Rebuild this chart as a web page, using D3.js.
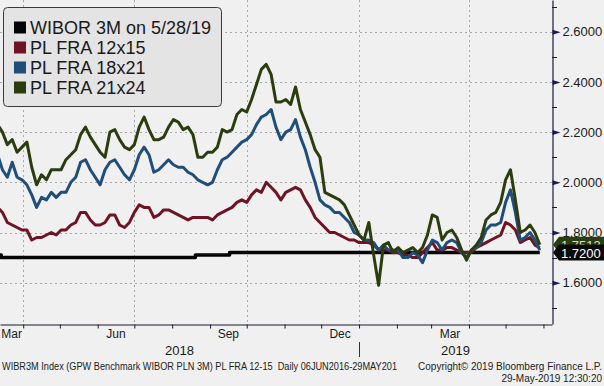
<!DOCTYPE html>
<html>
<head>
<meta charset="utf-8">
<script src="https://cdn.jsdelivr.net/npm/d3@7"></script>
<style>
  html, body { margin: 0; padding: 0; background: #f0f0f0; }
  svg { display: block; font-family: "Liberation Sans", Arial, sans-serif; }
</style>
</head>
<body>
<div id="chart"></div>
<script>
// chart size and plot box (value axis on the right)
var svgWidth = 604;
var svgHeight = 386;
var plotW = 552;
var plotH = 324;

// FRA quotes, one reading every 4 days from 11 Mar 2018 to 29 May 2019
var startDate = "2018-03-11";
var stepDays = 4;

var fra12x15 = [1.90, 1.88, 1.84, 1.83, 1.82, 1.81, 1.81, 1.77, 1.78, 1.78,
  1.79, 1.80, 1.79, 1.81, 1.81, 1.83, 1.84, 1.88, 1.88, 1.85,
  1.83, 1.83, 1.84, 1.87, 1.87, 1.83, 1.82, 1.84, 1.88, 1.91,
  1.90, 1.90, 1.86, 1.87, 1.89, 1.89, 1.88, 1.87, 1.86, 1.85,
  1.86, 1.86, 1.86, 1.86, 1.85, 1.87, 1.88, 1.89, 1.90, 1.92,
  1.93, 1.92, 1.95, 1.97, 1.96, 2.00, 1.98, 1.96, 1.93, 1.96,
  1.97, 1.98, 1.97, 1.93, 1.90, 1.86, 1.84, 1.82, 1.80, 1.80,
  1.79, 1.78, 1.77, 1.77, 1.76, 1.76, 1.76, 1.75, 1.73, 1.73,
  1.73, 1.72, 1.72, 1.71, 1.71, 1.70, 1.70, 1.72, 1.74, 1.76,
  1.73, 1.73, 1.74, 1.74, 1.73, 1.72, 1.72, 1.72, 1.74, 1.75,
  1.76, 1.77, 1.78, 1.79, 1.84, 1.83, 1.81, 1.76, 1.77, 1.78,
  1.75, 1.74];

var fra18x21 = [2.11, 2.05, 2.02, 2.08, 2.02, 2.01, 1.99, 1.95, 1.90, 1.94,
  1.93, 1.96, 1.94, 1.96, 1.96, 2.00, 2.02, 2.08, 2.09, 2.05,
  2.02, 1.99, 2.05, 2.08, 2.09, 2.06, 2.03, 2.01, 2.05, 2.11,
  2.14, 2.11, 2.04, 2.05, 2.07, 2.09, 2.07, 2.06, 2.06, 2.04,
  2.03, 2.01, 2.00, 1.99, 2.00, 2.05, 2.09, 2.10, 2.12, 2.14,
  2.16, 2.17, 2.19, 2.23, 2.26, 2.27, 2.29, 2.22, 2.17, 2.20,
  2.21, 2.25, 2.18, 2.13, 2.06, 2.00, 1.93, 1.91, 1.90, 1.88,
  1.88, 1.86, 1.84, 1.80, 1.79, 1.77, 1.77, 1.76, 1.73, 1.75,
  1.73, 1.73, 1.73, 1.70, 1.70, 1.72, 1.71, 1.68, 1.73, 1.77,
  1.76, 1.73, 1.76, 1.77, 1.76, 1.72, 1.70, 1.73, 1.74, 1.76,
  1.81, 1.83, 1.83, 1.84, 1.92, 1.97, 1.88, 1.77, 1.78, 1.80,
  1.77, 1.73];

var fra21x24 = [2.23, 2.20, 2.15, 2.17, 2.12, 2.14, 2.16, 2.06, 1.99, 2.03,
  2.01, 2.05, 2.05, 2.05, 2.09, 2.11, 2.13, 2.19, 2.22, 2.18,
  2.15, 2.12, 2.10, 2.20, 2.21, 2.17, 2.14, 2.13, 2.15, 2.22,
  2.26, 2.21, 2.17, 2.17, 2.18, 2.22, 2.25, 2.24, 2.21, 2.22,
  2.19, 2.10, 2.10, 2.12, 2.12, 2.14, 2.21, 2.20, 2.21, 2.27,
  2.29, 2.28, 2.33, 2.39, 2.45, 2.47, 2.43, 2.32, 2.32, 2.33,
  2.31, 2.38, 2.29, 2.24, 2.19, 2.13, 2.10, 1.96, 1.95, 1.94,
  1.93, 1.91, 1.87, 1.83, 1.79, 1.77, 1.84, 1.71, 1.59, 1.75,
  1.76, 1.72, 1.74, 1.72, 1.73, 1.74, 1.72, 1.74, 1.79, 1.87,
  1.86, 1.77, 1.80, 1.81, 1.78, 1.73, 1.69, 1.73, 1.75, 1.78,
  1.85, 1.87, 1.88, 1.92, 2.01, 2.05, 1.93, 1.80, 1.81, 1.83,
  1.80, 1.7513];

// WIBOR 3M fixing, changes only in steps
var wiborDates = ["2018-03-11", "2018-03-14", "2018-08-20", "2018-09-17", "2019-05-29"];
var wiborValues = [1.71, 1.70, 1.71, 1.72, 1.72];

var seriesNames = ["WIBOR 3M on 5/28/19", "PL FRA 12x15", "PL FRA 18x21", "PL FRA 21x24"];
var seriesColors = ["#050505", "#6e1423", "#1f4e79", "#2b3d0e"];

// axis ticks and labels
var yTicks = [1.6, 1.8, 2.0, 2.2, 2.4, 2.6];
var yMinorTicks = [1.5, 1.7, 1.9, 2.1, 2.3, 2.5, 2.7];
var monthLabelDates = ["2018-03-01", "2018-06-01", "2018-09-01", "2018-12-01", "2019-03-01"];
var monthLabels = ["Mar", "Jun", "Sep", "Dec", "Mar"];
var yearStarts = ["2018-01-01", "2019-01-01"];
var yearLabels = ["2018", "2019"];
var gridDates = ["2018-04-01", "2018-07-01", "2018-10-01", "2019-01-01", "2019-04-01"];

var footerLeft = "WIBR3M Index (GPW Benchmark WIBOR PLN 3M) PL FRA 12-15  Daily 06JUN2016-29MAY201";
var footerRight = ["Copyright\u00a9 2019 Bloomberg Finance L.P.", "29-May-2019 12:30:20"];

var parseDate = d3.timeParse("%Y-%m-%d");

var svg = d3.select("#chart")
  .append("svg")
  .attr("width", svgWidth)
  .attr("height", svgHeight);

svg.append("rect")
  .attr("width", svgWidth)
  .attr("height", svgHeight)
  .attr("fill", "#f0f0f0");

/// scales
var xScale = d3.scaleTime()
  .domain([parseDate("2018-03-13"), parseDate("2019-06-08")])
  .range([0, plotW]);

var yScale = d3.scaleLinear()
  .domain([1.4355, 2.7263])
  .range([plotH, 0]);

/// build the point lists
var t0 = parseDate(startDate);
function toPoints(values) {
  return values.map(function(v, i) {
    return {date: d3.timeDay.offset(t0, i * stepDays), value: v};
  });
}
var wiborPoints = wiborDates.map(function(d, i) {
  return {date: parseDate(d), value: wiborValues[i]};
});
var allSeries = [wiborPoints, toPoints(fra12x15), toPoints(fra18x21), toPoints(fra21x24)];

/// grid lines
var grid = svg.append("g");
grid.selectAll(".hgrid")
  .data(yTicks)
  .enter()
  .append("line")
  .attr("x1", 0)
  .attr("x2", plotW)
  .attr("y1", d => Math.round(yScale(d)) + 0.5)
  .attr("y2", d => Math.round(yScale(d)) + 0.5)
  .attr("stroke", "#a8a8a8")
  .attr("stroke-dasharray", "2,3");

grid.selectAll(".vgrid")
  .data(gridDates.map(parseDate))
  .enter()
  .append("line")
  .attr("x1", d => Math.round(xScale(d)) + 0.5)
  .attr("x2", d => Math.round(xScale(d)) + 0.5)
  .attr("y1", 0)
  .attr("y2", plotH)
  .attr("stroke", "#a8a8a8")
  .attr("stroke-dasharray", "2,3");

/// lines, clipped to the plot box
svg.append("clipPath")
  .attr("id", "plotClip")
  .append("rect")
  .attr("width", plotW)
  .attr("height", plotH);

var lineGroup = svg.append("g").attr("clip-path", "url(#plotClip)");

var stepLine = d3.line()
  .curve(d3.curveStepAfter)
  .x(d => xScale(d.date))
  .y(d => yScale(d.value));

var plainLine = d3.line()
  .x(d => xScale(d.date))
  .y(d => yScale(d.value));

allSeries.forEach(function(points, i) {
  lineGroup.append("path")
    .datum(points)
    .attr("d", i === 0 ? stepLine : plainLine)
    .attr("fill", "none")
    .attr("stroke", seriesColors[i])
    .attr("stroke-width", i === 0 ? 3.5 : 3)
    .attr("stroke-linejoin", "round");
});

/// bottom axis: month ticks
var monthTicks = d3.timeMonth.range(xScale.domain()[0], xScale.domain()[1]);
var bottomAxis = d3.axisBottom(xScale)
  .tickValues(monthTicks)
  .tickSize(4)
  .tickSizeOuter(0)
  .tickFormat("");

var xAxisG = svg.append("g")
  .attr("transform", `translate(0, ${plotH + 0.5})`)
  .call(bottomAxis);
xAxisG.select(".domain").attr("stroke", "#1a1a33").attr("stroke-width", 1.2);
xAxisG.selectAll(".tick line").attr("stroke", "#1a1a33");

// month labels centred in the visible part of their month
function clampX(v) { return Math.max(0, Math.min(plotW, v)); }
svg.selectAll(".monthLabel")
  .data(monthLabelDates)
  .enter()
  .append("text")
  .attr("x", function(d) {
    var a = parseDate(d);
    return (clampX(xScale(a)) + clampX(xScale(d3.timeMonth.offset(a, 1)))) / 2;
  })
  .attr("y", 338)
  .attr("text-anchor", "middle")
  .attr("font-size", "12px")
  .attr("fill", "#1a1a1a")
  .text((d, i) => monthLabels[i]);

// year labels centred in the visible part of the year
svg.selectAll(".yearLabel")
  .data(yearStarts)
  .enter()
  .append("text")
  .attr("x", function(d) {
    var a = parseDate(d);
    return (clampX(xScale(a)) + clampX(xScale(d3.timeYear.offset(a, 1)))) / 2;
  })
  .attr("y", 355)
  .attr("text-anchor", "middle")
  .attr("font-size", "13px")
  .attr("fill", "#1a1a1a")
  .text((d, i) => yearLabels[i]);

// year separator
var sepX = Math.round(xScale(parseDate(yearStarts[1]))) + 0.5;
svg.append("line")
  .attr("x1", sepX).attr("x2", sepX)
  .attr("y1", 342).attr("y2", 357)
  .attr("stroke", "#333");

/// right value axis
var rightAxis = d3.axisRight(yScale)
  .tickValues(yTicks)
  .tickSize(0)
  .tickPadding(10)
  .tickFormat(d3.format(".4f"));

var yAxisG = svg.append("g")
  .attr("transform", `translate(${plotW + 0.5}, 0)`)
  .call(rightAxis);
yAxisG.select(".domain").attr("stroke", "#1a1a40").attr("stroke-width", 1.2);
yAxisG.selectAll(".tick text")
  .attr("font-size", "13px")
  .attr("font-family", "Liberation Sans, Arial, sans-serif")
  .attr("fill", "#1a1a1a");

// triangle markers on major ticks
yAxisG.selectAll(".tick")
  .append("path")
  .attr("d", "M0,-2.5L8,0L0,2.5Z")
  .attr("fill", "#1a1a50");

// minor ticks
svg.selectAll(".minorTick")
  .data(yMinorTicks)
  .enter()
  .append("line")
  .attr("x1", plotW)
  .attr("x2", plotW + 5)
  .attr("y1", d => Math.round(yScale(d)) + 0.5)
  .attr("y2", d => Math.round(yScale(d)) + 0.5)
  .attr("stroke", "#1a1a40");

/// last value tags on the right
function tagPath(cy, h) {
  var x0 = plotW + 1, x1 = plotW + 7, x2 = svgWidth;
  return `M${x0},${cy}L${x1},${cy - h / 2}L${x2},${cy - h / 2}L${x2},${cy + h / 2}L${x1},${cy + h / 2}Z`;
}
var tags = [
  {value: fra21x24[fra21x24.length - 1], fill: seriesColors[3], text: "#d6e2c2"},
  {value: wiborValues[wiborValues.length - 1], fill: "#0a0a0a", text: "#ffffff"}
];
tags.forEach(function(t) {
  var cy = yScale(t.value);
  svg.append("path")
    .attr("d", tagPath(cy, 16))
    .attr("fill", t.fill);
  svg.append("text")
    .attr("x", 561)
    .attr("y", cy + 5)
    .attr("font-size", "13px")
    .attr("fill", t.text)
    .text(d3.format(".4f")(t.value));
});

/// legend
var legend = svg.append("g");
legend.append("rect")
  .attr("x", 3.5)
  .attr("y", 7.5)
  .attr("width", 218)
  .attr("height", 99)
  .attr("rx", 4)
  .attr("fill", "#e4e4e4")
  .attr("stroke", "#3a3a3a");

var legendRows = legend.selectAll(".legendRow")
  .data(seriesNames)
  .enter()
  .append("g")
  .attr("transform", (d, i) => `translate(0, ${27.5 + i * 20})`);

legendRows.append("rect")
  .attr("x", 14)
  .attr("y", -6)
  .attr("width", 12)
  .attr("height", 12)
  .attr("fill", (d, i) => seriesColors[i]);

legendRows.append("text")
  .attr("x", 30)
  .attr("y", 6.5)
  .attr("font-size", "18px")
  .attr("fill", "#1a1a1a")
  .text(d => d);

/// footer
svg.append("text")
  .attr("x", 2)
  .attr("y", 370)
  .attr("font-size", "10px")
  .attr("fill", "#222")
  .attr("textLength", 395)
  .attr("lengthAdjust", "spacingAndGlyphs")
  .style("white-space", "pre")
  .text(footerLeft);

svg.selectAll(".footerRight")
  .data(footerRight)
  .enter()
  .append("text")
  .attr("x", 602)
  .attr("y", (d, i) => 370 + i * 12)
  .attr("text-anchor", "end")
  .attr("font-size", "10px")
  .attr("fill", "#222")
  .text(d => d);
</script>
</body>
</html>
